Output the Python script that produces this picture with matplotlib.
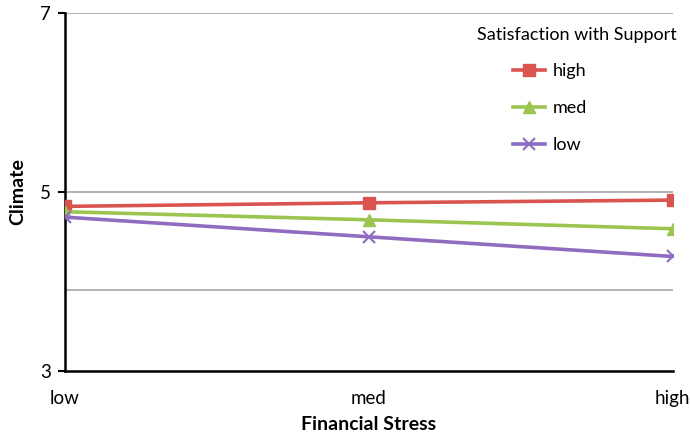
import matplotlib
matplotlib.use("Agg")
import matplotlib.pyplot as plt

categories = ["low", "med", "high"]
series_names = ["high", "med", "low"]
high_vals = [4.84, 4.88, 4.91]
med_vals = [4.78, 4.69, 4.59]
low_vals = [4.72, 4.50, 4.28]
y_ticks = [3, 5, 7]
grid_vals = [7, 5, 3.9]

plt.rcParams['font.family'] = ['Lato', 'DejaVu Sans']

fig = plt.figure(figsize=(6.9, 4.36), dpi=100)
ax = fig.add_axes([0.094, 0.149, 0.881, 0.821])

x = list(range(len(categories)))
for g in grid_vals:
    ax.axhline(g, color='#a6a6a6', lw=1.2, zorder=0)

ax.plot(x, high_vals, color='#d9534f', lw=2.6, marker='s', ms=9, label=series_names[0], zorder=3)
ax.plot(x, med_vals, color='#9bc54f', lw=2.6, marker='^', ms=9, label=series_names[1], zorder=3)
ax.plot(x, low_vals, color='#8f6cc0', lw=2.6, marker='x', ms=9, mew=1.5, label=series_names[2], zorder=3)

ax.set_xlim(0, 2)
ax.set_ylim(3, 7)
ax.set_yticks(y_ticks)
ax.set_yticklabels([str(t) for t in y_ticks], fontsize=13.5)
ax.set_xticks(x)
ax.set_xticklabels(categories, fontsize=13.5)
ax.tick_params(axis='x', length=0, pad=14)
ax.tick_params(axis='y', length=5, width=1.5, direction='out', pad=5)

for s in ['top', 'right']:
    ax.spines[s].set_visible(False)
for s in ['left', 'bottom']:
    ax.spines[s].set_linewidth(1.8)
    ax.spines[s].set_color('black')

ax.set_xlabel("Financial Stress", fontsize=14, fontweight='bold', labelpad=6)
ax.set_ylabel("Climate", fontsize=14, fontweight='bold', labelpad=10)

fig.text(577 / 690, 1 - 35 / 436, "Satisfaction with Support", fontsize=13,
         ha='center', va='center')
leg = ax.legend(loc='upper left', bbox_to_anchor=(0.737, 0.861),
                frameon=False, fontsize=13, handlelength=1.8,
                labelspacing=1.17, handletextpad=0.4, borderpad=0, borderaxespad=0)

fig.savefig("out.png", dpi=100)
